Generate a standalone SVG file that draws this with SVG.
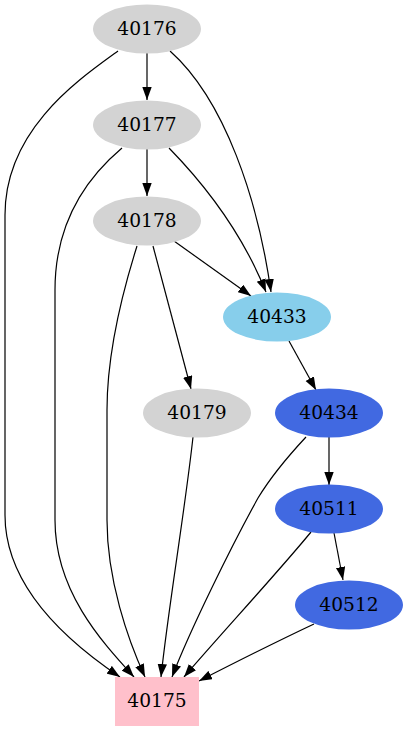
<svg xmlns="http://www.w3.org/2000/svg" width="408" height="731" viewBox="0 0 408 731">
<style>
.e{fill:none;stroke:#000;stroke-width:1.2}
text{font-family:"DejaVu Serif","Liberation Serif",serif;font-size:18.67px;text-anchor:middle;fill:#000}
.g{fill:#d3d3d3}.s{fill:#87ceeb}.b{fill:#4169e1}.p{fill:#ffc0cb}
</style>
<defs>
<marker id="a" markerUnits="userSpaceOnUse" markerWidth="14" markerHeight="10" refX="13" refY="4.7" orient="auto">
<path d="M0,0 L13,4.7 L0,9.4 z" fill="#000"/>
</marker>
</defs>
<rect width="408" height="731" fill="#fff"/>
<g id="edges" class="e" marker-end="url(#a)">
<path d="M147,53 L147,100"/>
<path d="M118,51 C78,80 5,130 5,215 L5,515 C5,585 65,640 120,677"/>
<path d="M170,51 C225,100 258,200 271,292"/>
<path d="M147,149 L147,196"/>
<path d="M122,148 C90,175 55,220 55,290 L55,520 C55,590 100,640 134,677"/>
<path d="M169,148 C210,190 245,240 266,292"/>
<path d="M174,241 L251,296"/>
<path d="M137,246 C120,300 107,360 107,410 L107,520 C107,580 128,640 145,677"/>
<path d="M153,246 L191,389"/>
<path d="M289,341 L316,390"/>
<path d="M193,437 C185,510 168,610 161,677"/>
<path d="M329,437 L329,485"/>
<path d="M306,437 C292,452 272,475 258,498 C232,545 190,630 172,677"/>
<path d="M334,533 L343,580"/>
<path d="M311,532 C280,570 220,635 184,677"/>
<path d="M314,624 C280,640 240,660 199,681"/>
</g>
<g id="n40176"><ellipse class="g" cx="147" cy="29" rx="54" ry="24.5"/><text x="147" y="35">40176</text></g>
<g id="n40177"><ellipse class="g" cx="147" cy="125" rx="54" ry="24.5"/><text x="147" y="131">40177</text></g>
<g id="n40178"><ellipse class="g" cx="147" cy="221" rx="54" ry="24.5"/><text x="147" y="227">40178</text></g>
<g id="n40433"><ellipse class="s" cx="277" cy="317" rx="54" ry="24.5"/><text x="277" y="323">40433</text></g>
<g id="n40179"><ellipse class="g" cx="197" cy="413" rx="54" ry="24.5"/><text x="197" y="419">40179</text></g>
<g id="n40434"><ellipse class="b" cx="329" cy="413" rx="54" ry="24.5"/><text x="329" y="419">40434</text></g>
<g id="n40511"><ellipse class="b" cx="329" cy="509" rx="54" ry="24.5"/><text x="329" y="515">40511</text></g>
<g id="n40512"><ellipse class="b" cx="349" cy="605" rx="54" ry="24.5"/><text x="349" y="611">40512</text></g>
<g id="n40175"><rect class="p" x="115" y="677" width="84" height="49"/><text x="157" y="707">40175</text></g>
</svg>
